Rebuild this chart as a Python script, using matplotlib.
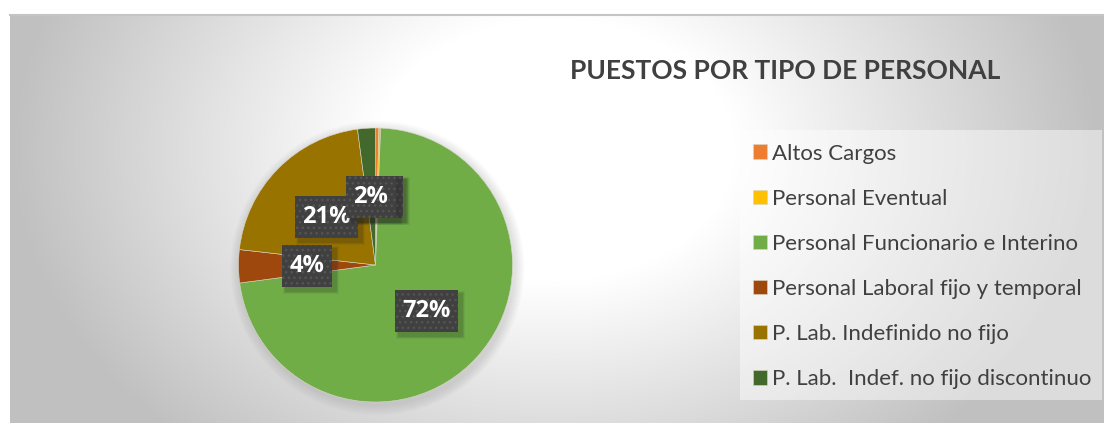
import numpy as np
import matplotlib
matplotlib.use('Agg')
import matplotlib.pyplot as plt
from matplotlib.patches import Rectangle, Circle

categories = ['Altos Cargos', 'Personal Eventual', 'Personal Funcionario e Interino',
              'Personal Laboral fijo y temporal', 'P. Lab. Indefinido no fijo',
              'P. Lab.  Indef. no fijo discontinuo']
shares = [0.4, 0.2, 72.3, 3.9, 21.1, 2.1]
colors = ['#ED7D31', '#FFC000', '#70AD47', '#9E480E', '#997300', '#43682B']
title = 'PUESTOS POR TIPO DE PERSONAL'

plt.rcParams['font.family'] = ['Lato', 'DejaVu Sans']

W, H = 1104, 423
fig = plt.figure(figsize=(W / 100, H / 100), dpi=100)
fig.patch.set_facecolor('white')
ax = fig.add_axes([0, 0, 1, 1])

# chart-area background: soft radial gradient
x0, y0 = 10, 15
xs = np.arange(x0, W) + 0.5
ys = np.arange(y0, H) + 0.5
X, Y = np.meshgrid(xs, ys)
d = np.sqrt((X - 555) ** 2 + ((Y - 150) / 0.73) ** 2)
t = np.clip((d - 180) / (545 - 180), 0, 1)
val = (255 - 63 * t) / 255
img = np.dstack([val, val, val])
ax.imshow(img, extent=(x0, W, H, y0), origin='upper', interpolation='bilinear', zorder=0)
ax.plot([x0, W], [y0 + 0.5, y0 + 0.5], color='#c4c4c4', lw=1.5, zorder=1)

cx, cy, R = 375.5, 265, 137
# pie shadow halo
for k in range(10, 0, -1):
    ax.add_patch(Circle((cx + 2, cy + 3), R + k, color='#808080', alpha=0.025, lw=0, zorder=1))

wedges, texts, autotexts = ax.pie(
    shares, colors=colors, center=(cx, cy), radius=R, startangle=270,
    counterclock=True, frame=True, autopct='%.0f%%', pctdistance=0.5,
    wedgeprops=dict(linewidth=0.4, edgecolor='#d8d8c8'),
    textprops=dict(color='white', fontsize=17, fontweight='bold',
                   family=['Open Sans', 'DejaVu Sans']))
for w in wedges:
    w.set_zorder(2)

z = 3
for at in autotexts:
    x, y = at.get_position()
    n = len(at.get_text())
    bw, bh = 24 + 13 * n, 42
    for k, a in [(6, 0.06), (4, 0.09), (2, 0.12)]:
        ax.add_patch(Rectangle((x - bw / 2 + 4 - k / 2, y - bh / 2 + 4 - k / 2), bw + k, bh + k,
                               fc='#202020', ec='none', alpha=a, zorder=z))
    ax.add_patch(Rectangle((x - bw / 2, y - bh / 2), bw, bh, fc='#404040',
                           ec='#555555', lw=0, hatch='...', zorder=z + 0.1))
    at.set_zorder(z + 0.2)
    at.set_ha('center')
    at.set_va('center')
    z += 1

# legend background
ax.add_patch(Rectangle((740, 130), 362, 270, fc='white', ec='none', alpha=0.45, zorder=1))
ax.legend(wedges, categories, loc='upper left', bbox_to_anchor=(753 / W, 1 - 143.5 / H),
          bbox_transform=fig.transFigure, frameon=False, fontsize=16,
          labelcolor='#404040', handlelength=0.63, handleheight=0.63,
          handletextpad=0.22, labelspacing=1.13, borderpad=0, borderaxespad=0)

ax.text(785, 71, title, ha='center', va='center', fontsize=19, fontweight='bold',
        color='#404040', zorder=5)

ax.set_xlim(0, W)
ax.set_ylim(H, 0)
ax.set_aspect('auto')
ax.axis('off')
fig.savefig('out.png', dpi=100)
